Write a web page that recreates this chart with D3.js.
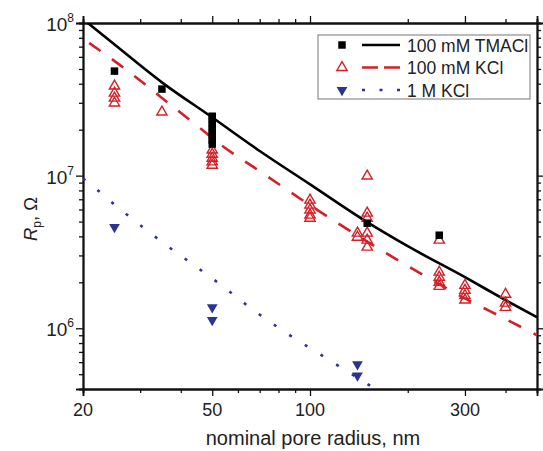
<!DOCTYPE html>
<html>
<head>
<meta charset="utf-8">
<script src="https://cdn.jsdelivr.net/npm/d3@7"></script>
<style>
  body { margin: 0; background: #fff; }
  text { font-family: "Liberation Sans", Arial, sans-serif; fill: #222; }
</style>
</head>
<body>
<div id="chart"></div>
<script>
// ~~~~~~~~~~ data ~~~~~~~~~~
// 100 mM TMACl (black squares)
var tmaRadius = [25, 35, 50, 50, 50, 50, 50, 50, 50, 50, 150, 250];
var tmaRes = [4.84e7, 3.69e7, 2.45e7, 2.31e7, 2.18e7, 2.05e7, 1.93e7, 1.82e7, 1.71e7, 1.61e7, 4.88e6, 4.07e6];

// 100 mM KCl (open red triangles)
var kclRadius = [25, 25, 25, 25, 35, 50, 50, 50, 50, 50, 100, 100, 100, 100, 100, 140, 140,
  150, 150, 150, 150, 150, 150, 250, 250, 250, 250, 250, 300, 300, 300, 300, 400, 400, 400];
var kclRes = [3.86e7, 3.47e7, 3.22e7, 2.99e7, 2.61e7, 1.47e7, 1.38e7, 1.30e7, 1.23e7, 1.17e7,
  6.91e6, 6.41e6, 5.94e6, 5.51e6, 5.26e6, 4.2e6, 3.95e6,
  9.93e6, 5.68e6, 5.26e6, 4.2e6, 3.78e6, 3.40e6, 3.78e6, 2.33e6, 2.16e6, 2.0e6, 1.88e6,
  1.91e6, 1.77e6, 1.64e6, 1.53e6, 1.67e6, 1.46e6, 1.37e6];

// 1 M KCl (blue down triangles)
var kcl1mRadius = [25, 50, 50, 140, 140];
var kcl1mRes = [4.6e6, 1.37e6, 1.13e6, 5.8e5, 4.9e5];

// fitted curves
var tmaFitRadius = [20.7, 24.9, 34.9, 49.8, 70, 99.8, 150, 200, 300, 400, 500];
var tmaFitRes = [1e8, 7.28e7, 4.10e7, 2.42e7, 1.45e7, 8.80e6, 4.96e6, 3.45e6, 2.16e6, 1.53e6, 1.18e6];

var kclFitRadius = [20.9, 26, 31.1, 37.3, 44.6, 53, 70, 100, 150, 218, 300, 400, 500];
var kclFitRes = [7.4e7, 5.3e7, 3.95e7, 2.9e7, 2.15e7, 1.6e7, 1.07e7, 6.4e6, 3.7e6, 2.3e6, 1.57e6, 1.15e6, 9.0e5];

var kcl1mFitRadius = [20, 22.4, 24.9, 27.7, 30.8, 34.4, 52.9, 65.3, 80.4, 111, 154, 165];
var kcl1mFitRes = [9.6e6, 7.9e6, 6.5e6, 5.42e6, 4.53e6, 3.78e6, 1.94e6, 1.37e6, 1.0e6, 6.46e5, 4.17e5, 3.8e5];

// axis ticks
var xMajor = [20, 50, 100, 300];
var xMinor = [30, 40, 60, 70, 80, 90, 200, 400, 500];
var yMajor = [1e6, 1e7, 1e8];
var yMinor = [5e5, 6e5, 7e5, 8e5, 9e5, 2e6, 3e6, 4e6, 5e6, 6e6, 7e6, 8e6, 9e6,
  2e7, 3e7, 4e7, 5e7, 6e7, 7e7, 8e7, 9e7];

var legendLabels = ["100 mM TMACl", "100 mM KCl", "1 M KCl"];

// ~~~~~~~~~~ setup ~~~~~~~~~~
var svgwidth = 543, svgheight = 451;
var margin = { top: 23, right: 6, bottom: 62, left: 83 };
var width = svgwidth - margin.left - margin.right;
var height = svgheight - margin.top - margin.bottom;

var black = "#000", red = "#d42027", blue = "#2b3394";

var svg = d3.select("#chart").append("svg")
  .attr("width", svgwidth)
  .attr("height", svgheight);

var chartGroup = svg.append("g")
  .attr("transform", `translate(${margin.left}, ${margin.top})`);

var xscale = d3.scaleLog().domain([20, 500]).range([0, width]);
var yscale = d3.scaleLog().domain([4e5, 1e8]).range([height, 0]);

// ~~~~~~~~~~ axes ~~~~~~~~~~
function tickAxis(axisFn, scale, vals, size) {
  return axisFn(scale).tickValues(vals).tickSize(size).tickFormat("");
}
var axes = [
  { fn: d3.axisBottom, s: xscale, t: `translate(0, ${height})` },
  { fn: d3.axisTop, s: xscale, t: "translate(0, 0)" },
  { fn: d3.axisLeft, s: yscale, t: "translate(0, 0)" },
  { fn: d3.axisRight, s: yscale, t: `translate(${width}, 0)` }
];
axes.forEach(function(a) {
  var isX = a.s === xscale;
  var g1 = chartGroup.append("g").attr("transform", a.t)
    .call(tickAxis(a.fn, a.s, isX ? xMinor : yMinor, 4));
  var g2 = chartGroup.append("g").attr("transform", a.t)
    .call(tickAxis(a.fn, a.s, isX ? xMajor : yMajor, 7));
  [g1, g2].forEach(function(g) {
    g.selectAll("line").attr("stroke", "#111").attr("stroke-width", 1.3);
    g.select(".domain").attr("stroke", "#111").attr("stroke-width", 1.8);
  });
});

// x tick labels
chartGroup.selectAll(".xlab")
  .data(xMajor)
  .enter()
  .append("text")
  .attr("class", "xlab")
  .attr("x", d => xscale(d))
  .attr("y", height + 27)
  .attr("text-anchor", "middle")
  .attr("font-size", 18)
  .text(d => d);

// y tick labels with superscripts
var ylab = chartGroup.selectAll(".ylab")
  .data(yMajor)
  .enter()
  .append("text")
  .attr("class", "ylab")
  .attr("x", -9)
  .attr("y", d => yscale(d) + 8)
  .attr("text-anchor", "end")
  .attr("font-size", 19);
ylab.append("tspan").text("10");
ylab.append("tspan").attr("dy", -9).attr("font-size", 12)
  .text(d => Math.round(Math.log10(d)));

// axis titles
svg.append("text")
  .attr("x", margin.left + xscale(100) + 3)
  .attr("y", 445)
  .attr("text-anchor", "middle")
  .attr("font-size", 20)
  .text("nominal pore radius, nm");

var ytitle = svg.append("text")
  .attr("transform", "translate(37, 219) rotate(-90)")
  .attr("text-anchor", "middle")
  .attr("font-size", 18.5);
ytitle.append("tspan").attr("font-style", "italic").text("R");
ytitle.append("tspan").attr("font-size", 12).attr("dy", 4).text("p");
ytitle.append("tspan").attr("dy", -4).text(", Ω");

// ~~~~~~~~~~ curves ~~~~~~~~~~
chartGroup.append("clipPath").attr("id", "plotclip")
  .append("rect").attr("width", width).attr("height", height);

var line = d3.line()
  .x(d => xscale(d[0]))
  .y(d => yscale(d[1]))
  .curve(d3.curveMonotoneX);

var curves = chartGroup.append("g").attr("clip-path", "url(#plotclip)");
curves.append("path")
  .datum(d3.zip(kcl1mFitRadius, kcl1mFitRes))
  .attr("d", line)
  .attr("fill", "none")
  .attr("stroke", blue)
  .attr("stroke-width", 2.6)
  .attr("stroke-dasharray", "3,15.5");
curves.append("path")
  .datum(d3.zip(kclFitRadius, kclFitRes))
  .attr("d", line)
  .attr("fill", "none")
  .attr("stroke", red)
  .attr("stroke-width", 2.6)
  .attr("stroke-dasharray", "14,14");
curves.append("path")
  .datum(d3.zip(tmaFitRadius, tmaFitRes))
  .attr("d", line)
  .attr("fill", "none")
  .attr("stroke", black)
  .attr("stroke-width", 2.6);

// ~~~~~~~~~~ points ~~~~~~~~~~
var sq = d3.symbol().type(d3.symbolSquare).size(56);
var tri = d3.symbol().type(d3.symbolTriangle).size(46);
var dtri = d3.symbol().type(d3.symbolTriangle).size(50);

chartGroup.selectAll(".kcl")
  .data(d3.zip(kclRadius, kclRes))
  .enter()
  .append("path")
  .attr("class", "kcl")
  .attr("d", tri)
  .attr("transform", d => `translate(${xscale(d[0])}, ${yscale(d[1])})`)
  .attr("fill", "none")
  .attr("stroke", red)
  .attr("stroke-width", 1.4);

chartGroup.selectAll(".tma")
  .data(d3.zip(tmaRadius, tmaRes))
  .enter()
  .append("path")
  .attr("class", "tma")
  .attr("d", sq)
  .attr("transform", d => `translate(${xscale(d[0])}, ${yscale(d[1])})`)
  .attr("fill", black);

chartGroup.selectAll(".kcl1m")
  .data(d3.zip(kcl1mRadius, kcl1mRes))
  .enter()
  .append("path")
  .attr("class", "kcl1m")
  .attr("d", dtri)
  .attr("transform", d => `translate(${xscale(d[0])}, ${yscale(d[1])}) rotate(180)`)
  .attr("fill", blue);

// ~~~~~~~~~~ legend ~~~~~~~~~~
var legend = svg.append("g").attr("transform", "translate(318, 35)");
legend.append("rect")
  .attr("width", 212).attr("height", 64)
  .attr("fill", "#fff")
  .attr("stroke", "#777")
  .attr("stroke-width", 1);

var rows = [
  { sym: sq, fill: black, stroke: "none", rot: 0, color: black, dash: null },
  { sym: tri, fill: "none", stroke: red, rot: 0, color: red, dash: "16,6" },
  { sym: dtri, fill: blue, stroke: "none", rot: 180, color: blue, dash: "3,14.5" }
];
rows.forEach(function(r, i) {
  var y = 10 + i * 22.5;
  legend.append("path")
    .attr("d", r.sym)
    .attr("transform", `translate(24, ${y}) rotate(${r.rot})`)
    .attr("fill", r.fill)
    .attr("stroke", r.stroke)
    .attr("stroke-width", 1.4);
  legend.append("line")
    .attr("x1", 44).attr("x2", 82)
    .attr("y1", y).attr("y2", y)
    .attr("stroke", r.color)
    .attr("stroke-width", 2.6)
    .attr("stroke-dasharray", r.dash);
  legend.append("text")
    .attr("x", 89)
    .attr("y", y + 6.5)
    .attr("font-size", 17.5)
    .text(legendLabels[i]);
});
</script>
</body>
</html>
